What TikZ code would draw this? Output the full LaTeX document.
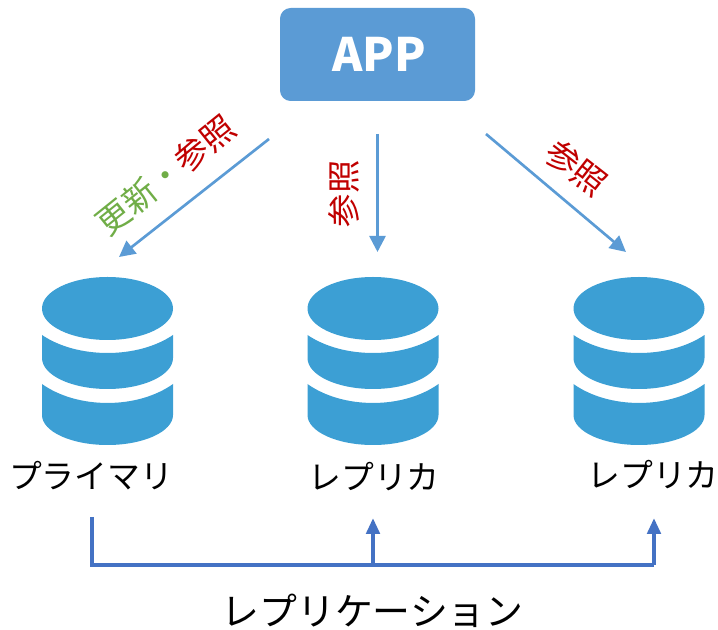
\documentclass[tikz,border=0pt]{standalone}
\usepackage{fontspec}
\setmainfont{Noto Sans CJK JP}
\usetikzlibrary{arrows.meta,positioning}

\definecolor{appblue}{HTML}{5B9BD5}
\definecolor{dbblue}{HTML}{3C9FD4}
\definecolor{repblue}{HTML}{4472C4}
\definecolor{refred}{HTML}{C00000}
\definecolor{updgreen}{HTML}{70AD47}

\tikzset{
    app/.style={fill=appblue, rounded corners=8pt, inner sep=0pt, minimum width=146.25pt, minimum height=69.75pt, text=white, font=\bfseries\fontsize{34.5}{34}\selectfont},
    access/.style={draw=appblue, line width=2pt, -{Triangle[length=12pt,width=12pt]}},
    replication/.style={draw=repblue, line width=3pt},
    reparrow/.style={replication, -{Triangle[length=12pt,width=10pt]}},
    dblabel/.style={inner sep=0pt, font=\fontsize{24.6}{25}\selectfont},
    edgelabel/.style={inner sep=0pt, font=\fontsize{25}{25}\selectfont},
    dbicon/.pic={
        \fill[dbblue] (0,0) ellipse [x radius=65.5, y radius=31.5];
        \fill[dbblue] (-65.5,26.5) .. controls (-30,50.5) and (30,50.5) .. (65.5,26.5) -- (65.5,49.5) arc[start angle=0, end angle=180, x radius=65.5, y radius=31] -- cycle;
        \fill[dbblue] (-65.5,75.5) .. controls (-30,100.8) and (30,100.8) .. (65.5,75.5) -- (65.5,106.5) arc[start angle=0, end angle=180, x radius=65.5, y radius=30] -- cycle;
    }
}

\begin{document}
\begin{tikzpicture}[x=0.75pt, y=-0.75pt]
    \useasboundingbox (0,0) rectangle (718,630);

    \node [app] (APP) at (377.5,54.5) {\hspace*{2pt}\raisebox{-2.5pt}{APP}};

    % three databases
    \pic at (107.5,308.5) {dbicon};
    \pic at (373,308.5) {dbicon};
    \pic at (639,308.5) {dbicon};

    \node [dblabel] (primary) at (91,476) {プライマリ};
    \node [dblabel] (replicaA) at (374,477) {レプリカ};
    \node [dblabel] (replicaB) at (653,475) {レプリカ};

    % arrows from the app
    \coordinate (leftS) at (269,139);
    \coordinate (leftE) at (119,257);
    \coordinate (midS) at (377.5,134);
    \coordinate (midE) at (377.5,252);
    \coordinate (rightS) at (486,134);
    \coordinate (rightE) at (626,252);
    \draw[access] (leftS) -- (leftE);
    \draw[access] (midS) -- (midE);
    \draw[access] (rightS) -- (rightE);

    \node [edgelabel, rotate=38.8] (both) at (166,175) {\textcolor{updgreen}{更新・}\textcolor{refred}{参照}};
    \node [edgelabel, rotate=90, text=refred] (readA) at (344,194) {参照};
    \node [edgelabel, rotate=-38, text=refred] (readB) at (576.5,168) {参照};

    % replication
    \coordinate (repS) at (92,517);
    \coordinate (repL) at (92,565);
    \coordinate (repM) at (373,565);
    \coordinate (repR) at (654,565);
    \coordinate (repA) at (373,518);
    \coordinate (repB) at (654,518);
    \draw[replication] (repS) -- (repL) -- (repR);
    \draw[reparrow] (repM) -- (repA);
    \draw[reparrow] (repR) -- (repB);

    \node [inner sep=0pt, font=\fontsize{28.4}{28}\selectfont] (repText) at (372.5,611) {レプリケーション};
\end{tikzpicture}
\end{document}
